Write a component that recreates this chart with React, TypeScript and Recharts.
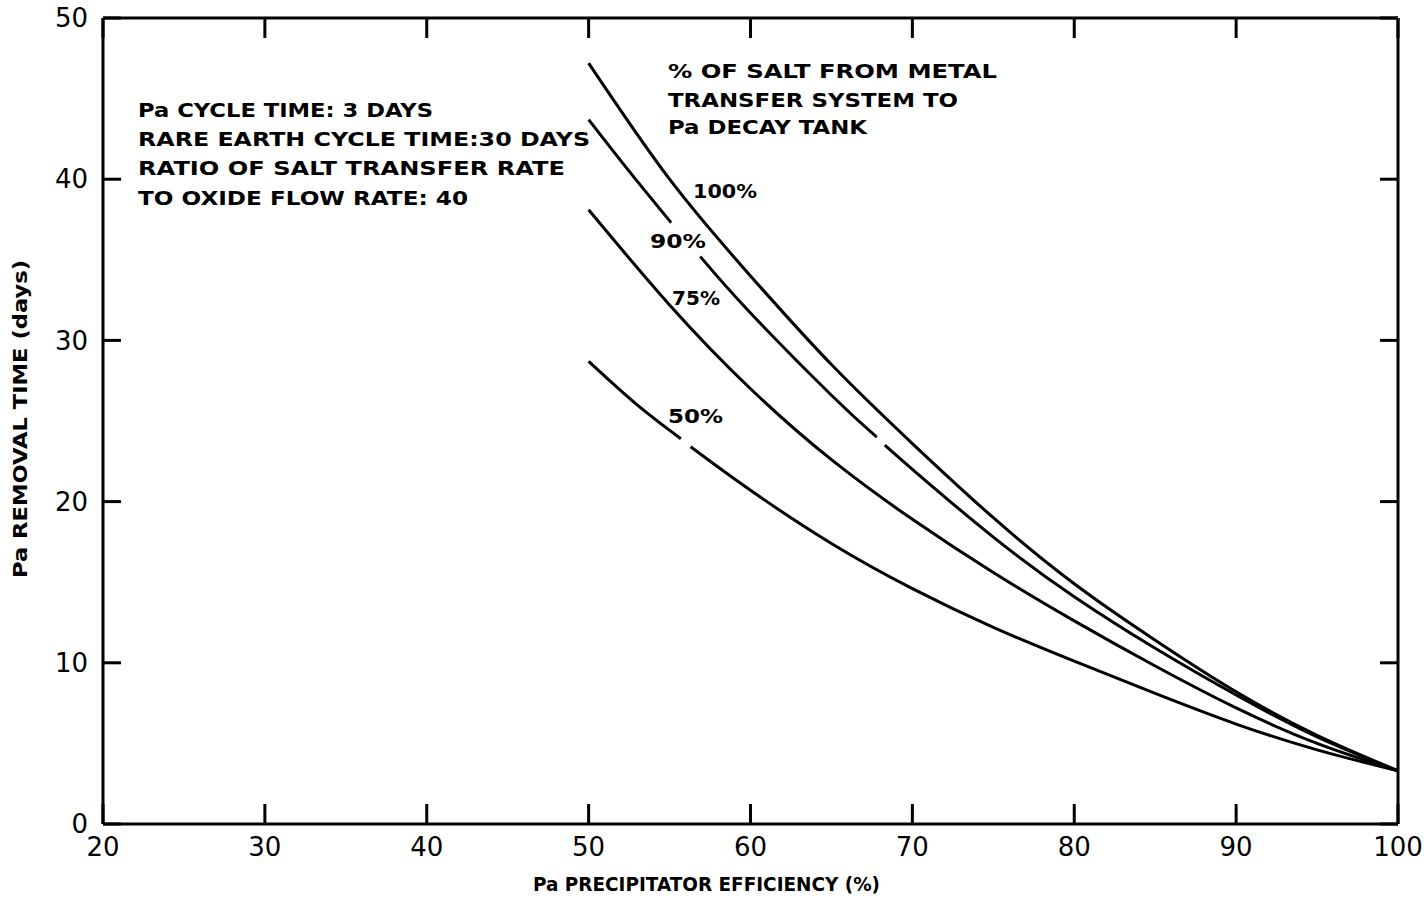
import { Line, LineChart, XAxis, YAxis } from 'recharts'

// Pa precipitator efficiency (%) ticks and removal time (days) ticks
const xTicks = [20, 30, 40, 50, 60, 70, 80, 90, 100]
const yTicks = [0, 10, 20, 30, 40, 50]

// % of salt from metal transfer system to Pa decay tank
// null entries leave the small breaks drawn in the original curves
const eff100 = [50, 55, 60, 65, 70, 75, 80, 85, 90, 95, 100]
const time100 = [47.2, 40.0, 34.0, 28.5, 23.6, 19.0, 14.9, 11.4, 8.2, 5.5, 3.3]

const eff90 = [50, 52.5, 55.1, 56, 56.9, 60, 65, 67.8, 68.05, 68.3, 70, 75, 80, 85, 90, 95, 100]
const time90 = [43.7, 40.5, 37.3, null, 35.2, 31.7, 26.6, 24.0, null, 23.5, 22.0, 17.8, 14.1, 10.9, 8.0, 5.4, 3.3]

const eff75 = [50, 55, 60, 65, 70, 75, 80, 85, 90, 95, 100]
const time75 = [38.1, 32.2, 27.0, 22.6, 18.9, 15.6, 12.6, 9.8, 7.2, 5.0, 3.3]

const eff50 = [50, 53, 55.7, 56, 56.3, 60, 65, 70, 75, 80, 85, 90, 95, 100]
const time50 = [28.7, 26.0, 23.9, null, 23.4, 20.7, 17.4, 14.6, 12.2, 10.1, 8.1, 6.2, 4.6, 3.3]

const toRows = (xs: number[], ys: (number | null)[]) => xs.map((x, i) => ({ x, y: ys[i] }))

const series = [
  { name: '100%', data: toRows(eff100, time100) },
  { name: '90%', data: toRows(eff90, time90) },
  { name: '75%', data: toRows(eff75, time75) },
  { name: '50%', data: toRows(eff50, time50) },
]

const FONT = '"DejaVu Sans", sans-serif'
const axisStroke = { stroke: '#000', strokeWidth: 3 }
const tickFont = { fill: '#000', fontSize: 26, fontFamily: FONT }
const noLabel = () => ''

export default function App() {
  return (
    <div style={{ position: 'absolute', left: 0, top: 0, width: 1426, height: 899, background: '#fff' }}>
      <LineChart width={1426} height={899} margin={{ top: 17, right: 27, bottom: 74, left: 102 }}>
        <XAxis
          xAxisId="b"
          type="number"
          dataKey="x"
          domain={[20, 100]}
          ticks={xTicks}
          allowDataOverflow
          height={1}
          axisLine={axisStroke}
          tickLine={axisStroke}
          tickSize={-20}
          tickMargin={34}
          tick={tickFont}
        />
        <XAxis
          xAxisId="t"
          orientation="top"
          type="number"
          dataKey="x"
          domain={[20, 100]}
          ticks={xTicks}
          allowDataOverflow
          height={1}
          axisLine={axisStroke}
          tickLine={axisStroke}
          tickSize={-20}
          tick={tickFont}
          tickFormatter={noLabel}
        />
        <YAxis
          yAxisId="l"
          type="number"
          domain={[0, 50]}
          ticks={yTicks}
          allowDataOverflow
          width={1}
          axisLine={axisStroke}
          tickLine={axisStroke}
          tickSize={-18}
          tickMargin={33}
          tick={tickFont}
        />
        <YAxis
          yAxisId="r"
          orientation="right"
          type="number"
          domain={[0, 50]}
          ticks={yTicks}
          allowDataOverflow
          width={1}
          axisLine={axisStroke}
          tickLine={axisStroke}
          tickSize={-18}
          tick={tickFont}
          tickFormatter={noLabel}
        />
        {series.map(s => (
          <Line
            key={s.name}
            data={s.data}
            dataKey="y"
            xAxisId="b"
            yAxisId="l"
            type="natural"
            stroke="#000"
            strokeWidth={3}
            dot={false}
            activeDot={false}
            isAnimationActive={false}
          />
        ))}
      </LineChart>

      <svg
        width={1426}
        height={899}
        style={{ position: 'absolute', left: 0, top: 0, pointerEvents: 'none' }}
        fontFamily={FONT}
        fontWeight="bold"
        fill="#000"
      >
        <g fontSize={20}>
          <text x={138} y={117} textLength={295} lengthAdjust="spacingAndGlyphs">Pa CYCLE TIME: 3 DAYS</text>
          <text x={138} y={146} textLength={452} lengthAdjust="spacingAndGlyphs">RARE EARTH CYCLE TIME:30 DAYS</text>
          <text x={138} y={175} textLength={427} lengthAdjust="spacingAndGlyphs">RATIO OF SALT TRANSFER RATE</text>
          <text x={138} y={205} textLength={330} lengthAdjust="spacingAndGlyphs">TO OXIDE FLOW RATE: 40</text>

          <text x={668} y={78} textLength={329} lengthAdjust="spacingAndGlyphs">% OF SALT FROM METAL</text>
          <text x={668} y={107} textLength={290} lengthAdjust="spacingAndGlyphs">TRANSFER SYSTEM TO</text>
          <text x={668} y={134} textLength={199} lengthAdjust="spacingAndGlyphs">Pa DECAY TANK</text>

          <text x={693} y={198} textLength={64} lengthAdjust="spacingAndGlyphs">100%</text>
          <text x={650} y={248} textLength={56} lengthAdjust="spacingAndGlyphs">90%</text>
          <text x={672} y={305} textLength={48} lengthAdjust="spacingAndGlyphs">75%</text>
          <text x={668} y={423} textLength={55} lengthAdjust="spacingAndGlyphs">50%</text>
        </g>
        <text x={533} y={891} fontSize={19} textLength={347} lengthAdjust="spacingAndGlyphs">
          Pa PRECIPITATOR EFFICIENCY (%)
        </text>
        <text
          transform="translate(27,578) rotate(-90)"
          fontSize={19}
          textLength={318}
          lengthAdjust="spacingAndGlyphs"
        >
          Pa REMOVAL TIME (days)
        </text>
      </svg>
    </div>
  )
}
